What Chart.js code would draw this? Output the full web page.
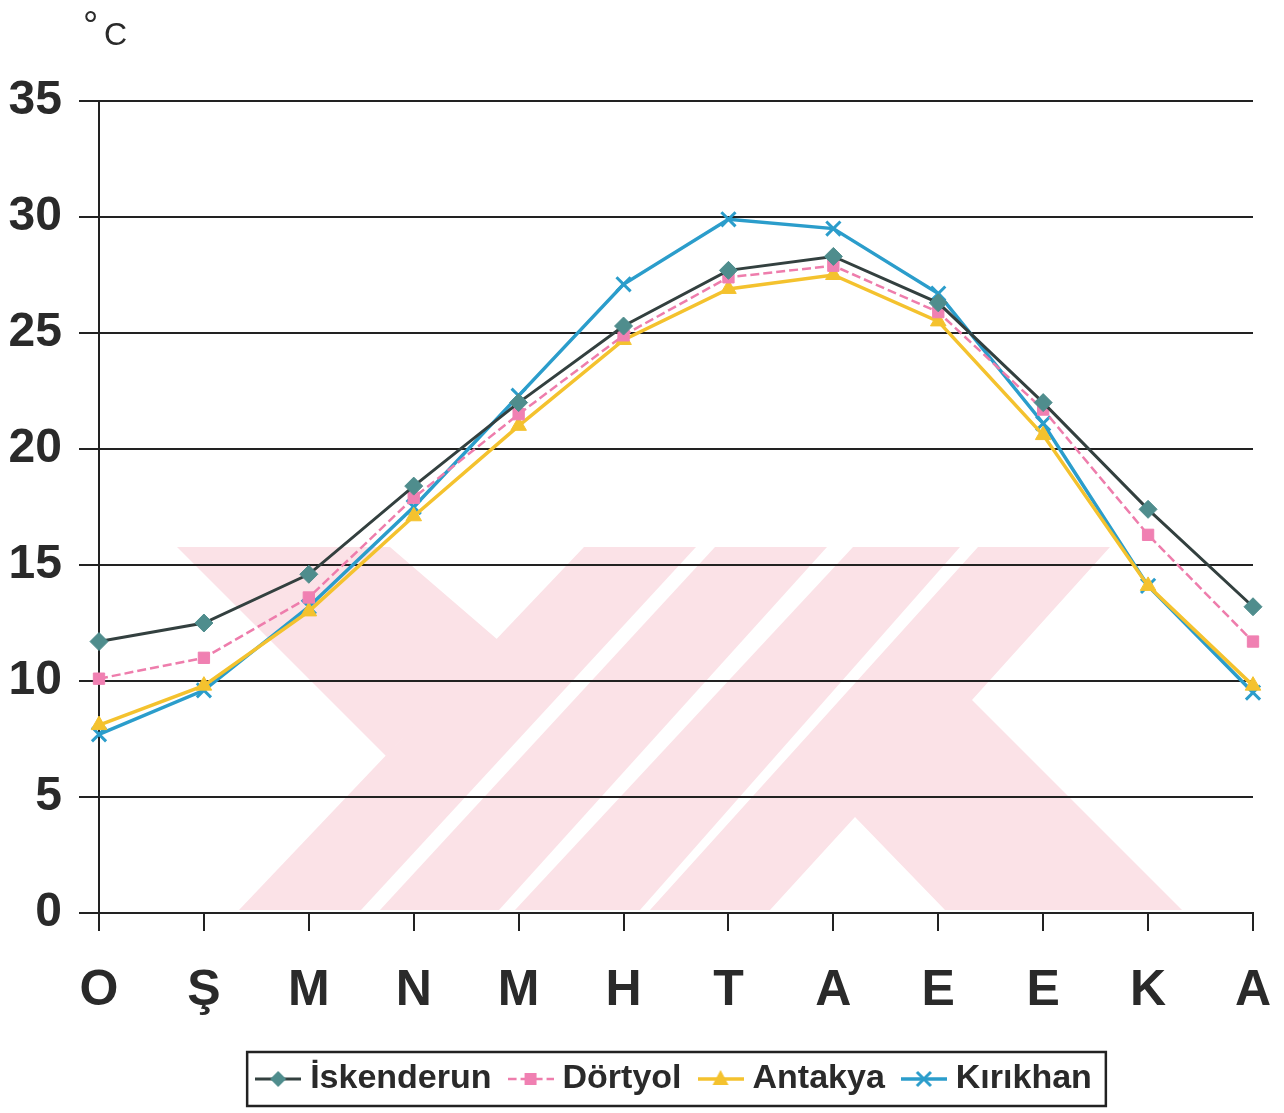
<!DOCTYPE html>
<html>
<head>
<meta charset="utf-8">
<script src="https://cdn.jsdelivr.net/npm/chart.js@4/dist/chart.umd.min.js"></script>
<style>
  html, body { margin: 0; padding: 0; background: #fff; }
  #wrap { width: 1284px; height: 1113px; }
</style>
</head>
<body>
<div id="wrap"><canvas id="chart" width="1284" height="1113"></canvas></div>
<script>
const months = ["O", "Ş", "M", "N", "M", "H", "T", "A", "E", "E", "K", "A"];
const iskenderun = [11.7, 12.5, 14.6, 18.4, 22.0, 25.3, 27.7, 28.3, 26.3, 22.0, 17.4, 13.2];
const dortyol = [10.1, 11.0, 13.6, 17.9, 21.5, 24.9, 27.4, 27.9, 25.9, 21.7, 16.3, 11.7];
const antakya = [8.1, 9.8, 13.0, 17.1, 21.0, 24.7, 26.9, 27.5, 25.5, 20.6, 14.1, 9.8];
const kirikhan = [7.7, 9.6, 13.2, 17.5, 22.3, 27.1, 29.9, 29.5, 26.7, 21.1, 14.1, 9.5];
const yTicks = [0, 5, 10, 15, 20, 25, 30, 35];

const FONT = '"Liberation Sans", Arial, sans-serif';
const INK = "#2a2a2a";

const series = [
  { label: "İskenderun", data: iskenderun, line: "#33403f", fill: "#4f8d8d", style: "rectRot", radius: 9, width: 3, dash: [] },
  { label: "Dörtyol", data: dortyol, line: "#ee7dac", fill: "#f080b2", style: "rect", radius: 8, width: 2.5, dash: [9, 4] },
  { label: "Antakya", data: antakya, line: "#f4c22e", fill: "#f4c22e", style: "triangle", radius: 9, width: 3.5, dash: [] },
  { label: "Kırıkhan", data: kirikhan, line: "#2b9dcb", fill: "#2b9dcb", style: "crossRot", radius: 10, width: 3.5, dash: [] },
];

// faint pink watermark of the scanned page, painted behind everything
const watermark = [
  [[177, 547], [390, 547], [498, 640], [386, 756]],
  [[584, 547], [696, 547], [361, 910], [239, 910]],
  [[715, 547], [827, 547], [499, 910], [380, 910]],
  [[853, 547], [960, 547], [640, 910], [515, 910]],
  [[978, 547], [1110, 547], [972, 700], [1182, 910], [945, 910], [855, 817], [770, 910], [650, 910]],
];

// small line+marker pictures for the legend
function legendIcon(s) {
  const c = document.createElement("canvas");
  c.width = 46; c.height = 26;
  const g = c.getContext("2d");
  g.strokeStyle = s.line; g.lineWidth = s.width; g.setLineDash(s.dash);
  g.beginPath(); g.moveTo(0, 13); g.lineTo(46, 13); g.stroke();
  g.setLineDash([]);
  g.fillStyle = s.fill; g.strokeStyle = s.fill;
  g.beginPath();
  if (s.style === "rectRot") { g.moveTo(23, 5); g.lineTo(31, 13); g.lineTo(23, 21); g.lineTo(15, 13); g.closePath(); g.fill(); }
  else if (s.style === "rect") { g.fillRect(17, 7, 12, 12); }
  else if (s.style === "triangle") { g.moveTo(23, 4); g.lineTo(31, 19); g.lineTo(15, 19); g.closePath(); g.fill(); }
  else { g.lineWidth = 3; g.moveTo(16, 6); g.lineTo(30, 20); g.moveTo(30, 6); g.lineTo(16, 20); g.stroke(); }
  return c;
}
const icons = series.map(legendIcon);

const pageMarks = {
  id: "pageMarks",
  beforeDraw(chart) {
    const ctx = chart.ctx;
    ctx.save();
    ctx.fillStyle = "#fbe2e7";
    for (const poly of watermark) {
      ctx.beginPath();
      poly.forEach(([x, y], i) => (i ? ctx.lineTo(x, y) : ctx.moveTo(x, y)));
      ctx.closePath();
      ctx.fill();
    }
    ctx.restore();
  },
  afterDraw(chart) {
    const ctx = chart.ctx;
    ctx.save();
    ctx.fillStyle = INK;
    ctx.textBaseline = "alphabetic";
    ctx.font = `38px ${FONT}`;
    ctx.fillText("°", 83, 38);
    ctx.font = `32px ${FONT}`;
    ctx.fillText("C", 104, 45);
    ctx.restore();
  },
};

// legend sits a bit right of centre in the original, then gets a frame
const LEGEND_SHIFT = 51;
const legendFrame = {
  id: "legendFrame",
  afterUpdate(chart) {
    const lg = chart.legend;
    lg.left += LEGEND_SHIFT;
    lg.right += LEGEND_SHIFT;
    for (const b of lg.legendHitBoxes) b.left += LEGEND_SHIFT;
  },
  afterDraw(chart) {
    const boxes = chart.legend.legendHitBoxes;
    if (!boxes || !boxes.length) return;
    const left = Math.min(...boxes.map((b) => b.left)) - 16;
    const right = Math.max(...boxes.map((b) => b.left + b.width)) + 14;
    const top = Math.min(...boxes.map((b) => b.top)) - 10;
    const bottom = Math.max(...boxes.map((b) => b.top + b.height)) + 10;
    const ctx = chart.ctx;
    ctx.save();
    ctx.strokeStyle = "#222";
    ctx.lineWidth = 2.5;
    ctx.strokeRect(left, top, right - left, bottom - top);
    ctx.restore();
  },
};

new Chart(document.getElementById("chart"), {
  type: "line",
  data: {
    labels: months,
    datasets: series.map((s) => ({
      label: s.label,
      data: s.data,
      borderColor: s.line,
      borderWidth: s.width,
      borderDash: s.dash,
      backgroundColor: s.fill,
      pointStyle: s.style,
      pointRadius: s.radius,
      pointBackgroundColor: s.fill,
      pointBorderColor: s.fill,
      pointBorderWidth: s.style === "crossRot" ? 3 : 1,
      tension: 0,
      fill: false,
    })),
  },
  options: {
    responsive: false,
    animation: false,
    layout: { padding: { left: 0, right: 31, top: 101, bottom: 7 } },
    plugins: {
      tooltip: { enabled: false },
      legend: {
        position: "bottom",
        labels: {
          usePointStyle: true,
          pointStyleWidth: 30,
          boxHeight: 34,
          padding: 24,
          color: INK,
          font: { family: FONT, size: 34, weight: "bold" },
          generateLabels: (chart) =>
            chart.data.datasets.map((d, i) => ({
              text: d.label,
              pointStyle: icons[i],
              fillStyle: series[i].fill,
              strokeStyle: series[i].line,
              lineWidth: 0,
              hidden: false,
              datasetIndex: i,
              fontColor: INK,
            })),
        },
      },
    },
    scales: {
      x: {
        type: "category",
        offset: false,
        afterFit: (s) => { s.height = 125; s.paddingLeft = 0; s.paddingRight = 0; },
        grid: { drawOnChartArea: false, drawTicks: true, tickLength: 18, color: "#222", lineWidth: 2 },
        border: { color: "#222", width: 2 },
        ticks: { autoSkip: false, maxRotation: 0, padding: 30, color: INK, font: { family: FONT, size: 50, weight: "bold" } },
      },
      y: {
        min: 0,
        max: 35,
        afterBuildTicks: (s) => { s.ticks = yTicks.map((v) => ({ value: v })); },
        afterFit: (s) => { s.width = 99; },
        grid: { color: "#222", lineWidth: 2, tickLength: 20 },
        border: { color: "#222", width: 2 },
        ticks: { padding: 17, color: INK, font: { family: FONT, size: 48, weight: "bold" } },
      },
    },
  },
  plugins: [pageMarks, legendFrame],
});
</script>
</body>
</html>
